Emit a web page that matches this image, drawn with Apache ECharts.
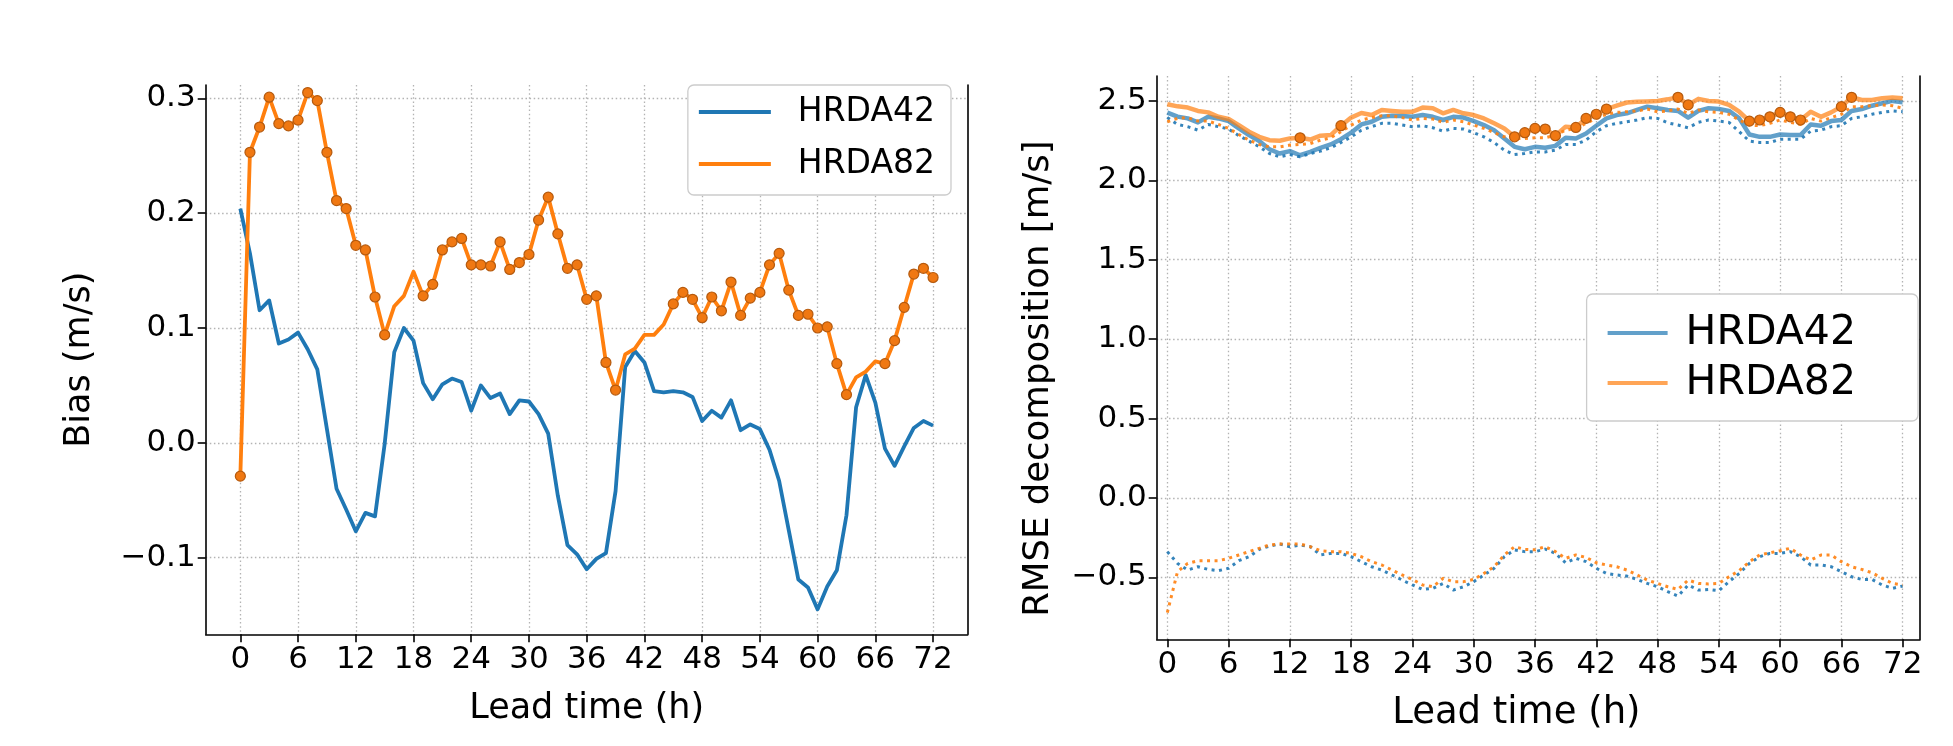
<!DOCTYPE html>
<html><head><meta charset="utf-8">
<script src="https://cdn.jsdelivr.net/npm/echarts@6/dist/echarts.min.js"></script>
<style>html,body{margin:0;padding:0;background:#fff}#c{width:1953px;height:746px}</style>
</head><body><div id="c"></div>
<script>
// Lead time (h), hourly 0..72
const leadTimes = Array.from({length: 73}, (_, i) => i);
const xTicks = [0, 6, 12, 18, 24, 30, 36, 42, 48, 54, 60, 66, 72];
const biasTicks = [-0.1, 0, 0.1, 0.2, 0.3];
const rmseTicks = [-0.5, 0, 0.5, 1, 1.5, 2, 2.5];

// Left panel: bias (m/s)
const bias42 = [0.204,0.165,0.1155,0.124,0.0865,0.090,0.096,0.0815,0.064,0.012,-0.040,-0.058,-0.077,-0.061,-0.064,-0.001,0.079,0.100,0.089,0.052,0.038,0.051,0.056,0.053,0.028,0.050,0.039,0.043,0.025,0.037,0.036,0.025,0.008,-0.046,-0.089,-0.097,-0.110,-0.101,-0.096,-0.042,0.066,0.080,0.070,0.045,0.044,0.045,0.044,0.040,0.019,0.028,0.022,0.037,0.011,0.016,0.012,-0.006,-0.033,-0.076,-0.119,-0.126,-0.145,-0.125,-0.111,-0.063,0.031,0.059,0.035,-0.005,-0.020,-0.003,0.013,0.019,0.015];
const bias82 = [-0.029,0.253,0.275,0.301,0.278,0.276,0.281,0.305,0.298,0.253,0.211,0.204,0.172,0.168,0.127,0.094,0.119,0.128,0.149,0.128,0.138,0.168,0.175,0.178,0.155,0.155,0.154,0.175,0.151,0.157,0.164,0.194,0.214,0.182,0.152,0.155,0.125,0.128,0.070,0.046,0.077,0.082,0.094,0.094,0.103,0.121,0.131,0.125,0.109,0.127,0.115,0.140,0.111,0.126,0.131,0.155,0.165,0.133,0.111,0.112,0.100,0.101,0.069,0.042,0.057,0.062,0.071,0.069,0.089,0.118,0.147,0.152,0.144];
// hours where HRDA82 bias is marked
const biasMarked82 = [0,1,2,3,4,5,6,7,8,9,10,11,12,13,14,15,19,20,21,22,23,24,25,26,27,28,29,30,31,32,33,34,35,36,37,38,39,45,46,47,48,49,50,51,52,53,54,55,56,57,58,59,60,61,62,63,67,68,69,70,71,72];

// Right panel: RMSE decomposition (m/s)
const rmse42 = [2.426,2.401,2.39,2.365,2.40,2.39,2.373,2.327,2.285,2.247,2.196,2.169,2.184,2.158,2.179,2.205,2.226,2.259,2.30,2.352,2.369,2.40,2.407,2.405,2.40,2.411,2.40,2.38,2.40,2.395,2.373,2.348,2.316,2.264,2.211,2.196,2.211,2.205,2.217,2.268,2.264,2.295,2.344,2.39,2.411,2.422,2.443,2.464,2.454,2.443,2.437,2.395,2.437,2.454,2.449,2.437,2.39,2.289,2.274,2.274,2.289,2.285,2.285,2.352,2.344,2.373,2.38,2.437,2.449,2.47,2.485,2.50,2.492];
const rmse82 = [2.479,2.466,2.458,2.437,2.428,2.40,2.386,2.348,2.306,2.274,2.253,2.249,2.264,2.268,2.257,2.281,2.285,2.344,2.395,2.424,2.411,2.443,2.437,2.432,2.432,2.458,2.454,2.422,2.443,2.422,2.411,2.39,2.359,2.327,2.274,2.30,2.327,2.323,2.281,2.338,2.333,2.39,2.416,2.449,2.47,2.49,2.495,2.497,2.50,2.51,2.523,2.475,2.513,2.50,2.496,2.475,2.432,2.373,2.38,2.40,2.428,2.40,2.38,2.432,2.40,2.428,2.464,2.523,2.506,2.506,2.517,2.521,2.517];
const sde42 = [2.395,2.352,2.338,2.316,2.352,2.338,2.323,2.281,2.247,2.211,2.169,2.148,2.162,2.148,2.169,2.184,2.205,2.238,2.274,2.316,2.338,2.359,2.359,2.348,2.338,2.344,2.331,2.31,2.327,2.323,2.30,2.274,2.238,2.19,2.162,2.169,2.179,2.179,2.19,2.226,2.226,2.253,2.306,2.344,2.359,2.369,2.38,2.395,2.39,2.362,2.348,2.331,2.365,2.38,2.373,2.365,2.306,2.247,2.238,2.238,2.259,2.259,2.259,2.31,2.316,2.338,2.344,2.39,2.40,2.416,2.428,2.437,2.432];
const sde82 = [2.369,2.39,2.395,2.373,2.373,2.352,2.327,2.289,2.253,2.226,2.211,2.211,2.222,2.226,2.232,2.253,2.268,2.306,2.348,2.38,2.395,2.407,2.407,2.395,2.38,2.39,2.386,2.365,2.38,2.369,2.348,2.327,2.30,2.274,2.264,2.264,2.268,2.268,2.285,2.316,2.327,2.359,2.39,2.416,2.428,2.432,2.437,2.449,2.432,2.437,2.449,2.422,2.443,2.432,2.428,2.416,2.38,2.348,2.344,2.359,2.38,2.365,2.352,2.39,2.373,2.395,2.416,2.464,2.464,2.47,2.475,2.47,2.454];
const low42 = [-0.338,-0.412,-0.454,-0.433,-0.45,-0.458,-0.443,-0.395,-0.37,-0.324,-0.303,-0.29,-0.307,-0.296,-0.307,-0.359,-0.349,-0.349,-0.37,-0.401,-0.433,-0.454,-0.485,-0.517,-0.548,-0.576,-0.569,-0.538,-0.58,-0.559,-0.527,-0.485,-0.443,-0.37,-0.328,-0.338,-0.338,-0.322,-0.349,-0.408,-0.38,-0.401,-0.443,-0.475,-0.485,-0.492,-0.513,-0.538,-0.559,-0.59,-0.618,-0.548,-0.58,-0.576,-0.584,-0.527,-0.475,-0.412,-0.37,-0.349,-0.349,-0.338,-0.37,-0.422,-0.422,-0.433,-0.464,-0.496,-0.513,-0.513,-0.548,-0.569,-0.555];
const low82 = [-0.722,-0.464,-0.412,-0.395,-0.395,-0.395,-0.38,-0.359,-0.338,-0.317,-0.296,-0.29,-0.29,-0.29,-0.307,-0.332,-0.338,-0.338,-0.349,-0.37,-0.401,-0.422,-0.454,-0.485,-0.513,-0.548,-0.559,-0.506,-0.527,-0.527,-0.513,-0.475,-0.433,-0.359,-0.307,-0.324,-0.326,-0.307,-0.338,-0.38,-0.359,-0.374,-0.408,-0.422,-0.433,-0.454,-0.485,-0.517,-0.538,-0.559,-0.576,-0.517,-0.538,-0.542,-0.538,-0.496,-0.458,-0.401,-0.359,-0.345,-0.332,-0.317,-0.359,-0.391,-0.359,-0.359,-0.401,-0.433,-0.45,-0.471,-0.506,-0.538,-0.548];
const rmseMarked82 = [13,17,34,35,36,37,38,40,41,42,43,50,51,57,58,59,60,61,62,66,67];

const FONT = 'DejaVu Sans';
const BLUE = '#1f77b4', ORANGE = '#ff7f0e';
const pairs = arr => leadTimes.map((h, i) => [h, arr[i]]);
const marked = (hrs, arr) => hrs.map(h => [h, arr[h]]);
const fmt1 = v => (v < 0 ? '\u2212' : '') + Math.abs(v).toFixed(1);
const gridLine = {show: true, lineStyle: {color: '#b3b3b3', width: 1.3, type: [1.5, 2.6]}};
const black = {color: '#000', width: 1.6};

function xAxis(gi, min, max, gap, fs, pad) {
  return {
    type: 'value', gridIndex: gi, min, max,
    name: 'Lead time (h)', nameLocation: 'middle', nameGap: gap,
    nameTextStyle: {fontFamily: FONT, fontSize: fs, color: '#000', padding: pad},
    axisLine: {show: true, onZero: false, lineStyle: black},
    axisTick: {show: true, customValues: xTicks, length: 8, lineStyle: black},
    axisLabel: {customValues: xTicks, fontFamily: FONT, fontSize: 31, color: '#000', margin: 10},
    splitLine: gridLine
  };
}
function yAxis(gi, min, max, ticks, name, gap, fs, pad) {
  return {
    type: 'value', gridIndex: gi, min, max,
    name, nameLocation: 'middle', nameGap: gap,
    nameTextStyle: {fontFamily: FONT, fontSize: fs, color: '#000', padding: pad},
    axisLine: {show: true, onZero: false, lineStyle: black},
    axisTick: {show: true, customValues: ticks, length: 8, lineStyle: black},
    axisLabel: {customValues: ticks, formatter: fmt1, fontFamily: FONT, fontSize: 31, color: '#000', margin: 10},
    splitLine: gridLine
  };
}
function spine(gi, min, max) {
  return {type: 'value', gridIndex: gi, min, max, position: 'right',
    axisLine: {show: true, onZero: false, lineStyle: black},
    axisTick: {show: false}, axisLabel: {show: false}, splitLine: {show: false}};
}
const line = (name, xi, arr, color, width, type, z) => ({
  type: 'line', name, xAxisIndex: xi, yAxisIndex: xi === 0 ? 0 : 2, data: pairs(arr),
  showSymbol: false, symbol: 'none', color, z: z || 2,
  lineStyle: {color, width, type: type || 'solid', cap: 'butt', join: 'round'}
});
const dots = (xi, data) => ({
  type: 'scatter', name: 'sig', xAxisIndex: xi, yAxisIndex: xi === 0 ? 0 : 2, data,
  symbol: 'circle', symbolSize: 10, z: 5,
  itemStyle: {color: '#f07812', borderColor: '#b55a0e', borderWidth: 1.2, opacity: 1}
});
const legendBase = {
  orient: 'vertical', icon: 'rect', selectedMode: false,
  borderColor: '#cccccc', borderWidth: 1.3, borderRadius: 6, backgroundColor: '#fff'
};

const chart = echarts.init(document.getElementById('c'), null, {renderer: 'canvas'});
chart.setOption({
  animation: false,
  backgroundColor: '#fff',
  grid: [
    {left: 205.7, right: 985.3, top: 85, bottom: 111.7},
    {left: 1156.7, right: 33, top: 76, bottom: 106.7}
  ],
  xAxis: [xAxis(0, -3.6, 75.6, 57, 35, [0, 0, 0, 0]), xAxis(1, -1.04, 73.7, 56, 37, [0, 44, 0, 0])],
  yAxis: [
    yAxis(0, -0.1667, 0.3116, biasTicks, 'Bias (m/s)', 108, 35, [0, 0, 0, 0]),
    spine(0, -0.1667, 0.3116),
    yAxis(1, -0.89, 2.657, rmseTicks, 'RMSE decomposition [m/s]', 100, 35.5, [0, 42, 0, 0]),
    spine(1, -0.89, 2.657)
  ],
  legend: [
    Object.assign({}, legendBase, {
      data: ['HRDA42', 'HRDA82'], right: 1002, top: 85,
      itemWidth: 72, itemHeight: 4, itemGap: 12, padding: [7, 16, 11, 11],
      textStyle: {fontFamily: FONT, fontSize: 33, color: '#000', lineHeight: 40, padding: [0, 0, 0, 22]}
    }),
    Object.assign({}, legendBase, {
      data: ['R_HRDA42', 'R_HRDA82'], right: 35, top: 294,
      formatter: n => n.replace('R_', ''),
      itemWidth: 60, itemHeight: 4, itemGap: 4, padding: [16, 62, 15, 21],
      textStyle: {fontFamily: FONT, fontSize: 41, color: '#000', lineHeight: 46, padding: [0, 0, 0, 13]}
    })
  ],
  series: [
    line('HRDA42', 0, bias42, BLUE, 3.8),
    line('HRDA82', 0, bias82, ORANGE, 3.8, 'solid', 3),
    dots(0, marked(biasMarked82, bias82)),
    line('R_HRDA42', 1, rmse42, 'rgba(31,119,180,0.7)', 4.5),
    line('R_HRDA82', 1, rmse82, 'rgba(255,127,14,0.7)', 4.5),
    line('sde42', 1, sde42, 'rgba(31,119,180,0.9)', 3, [3, 4.5]),
    line('sde82', 1, sde82, 'rgba(255,127,14,0.9)', 3, [3, 4.5]),
    line('low42', 1, low42, 'rgba(31,119,180,0.9)', 3, [3, 4.5]),
    line('low82', 1, low82, 'rgba(255,127,14,0.9)', 3, [3, 4.5]),
    dots(1, marked(rmseMarked82, rmse82))
  ]
});
</script></body></html>
